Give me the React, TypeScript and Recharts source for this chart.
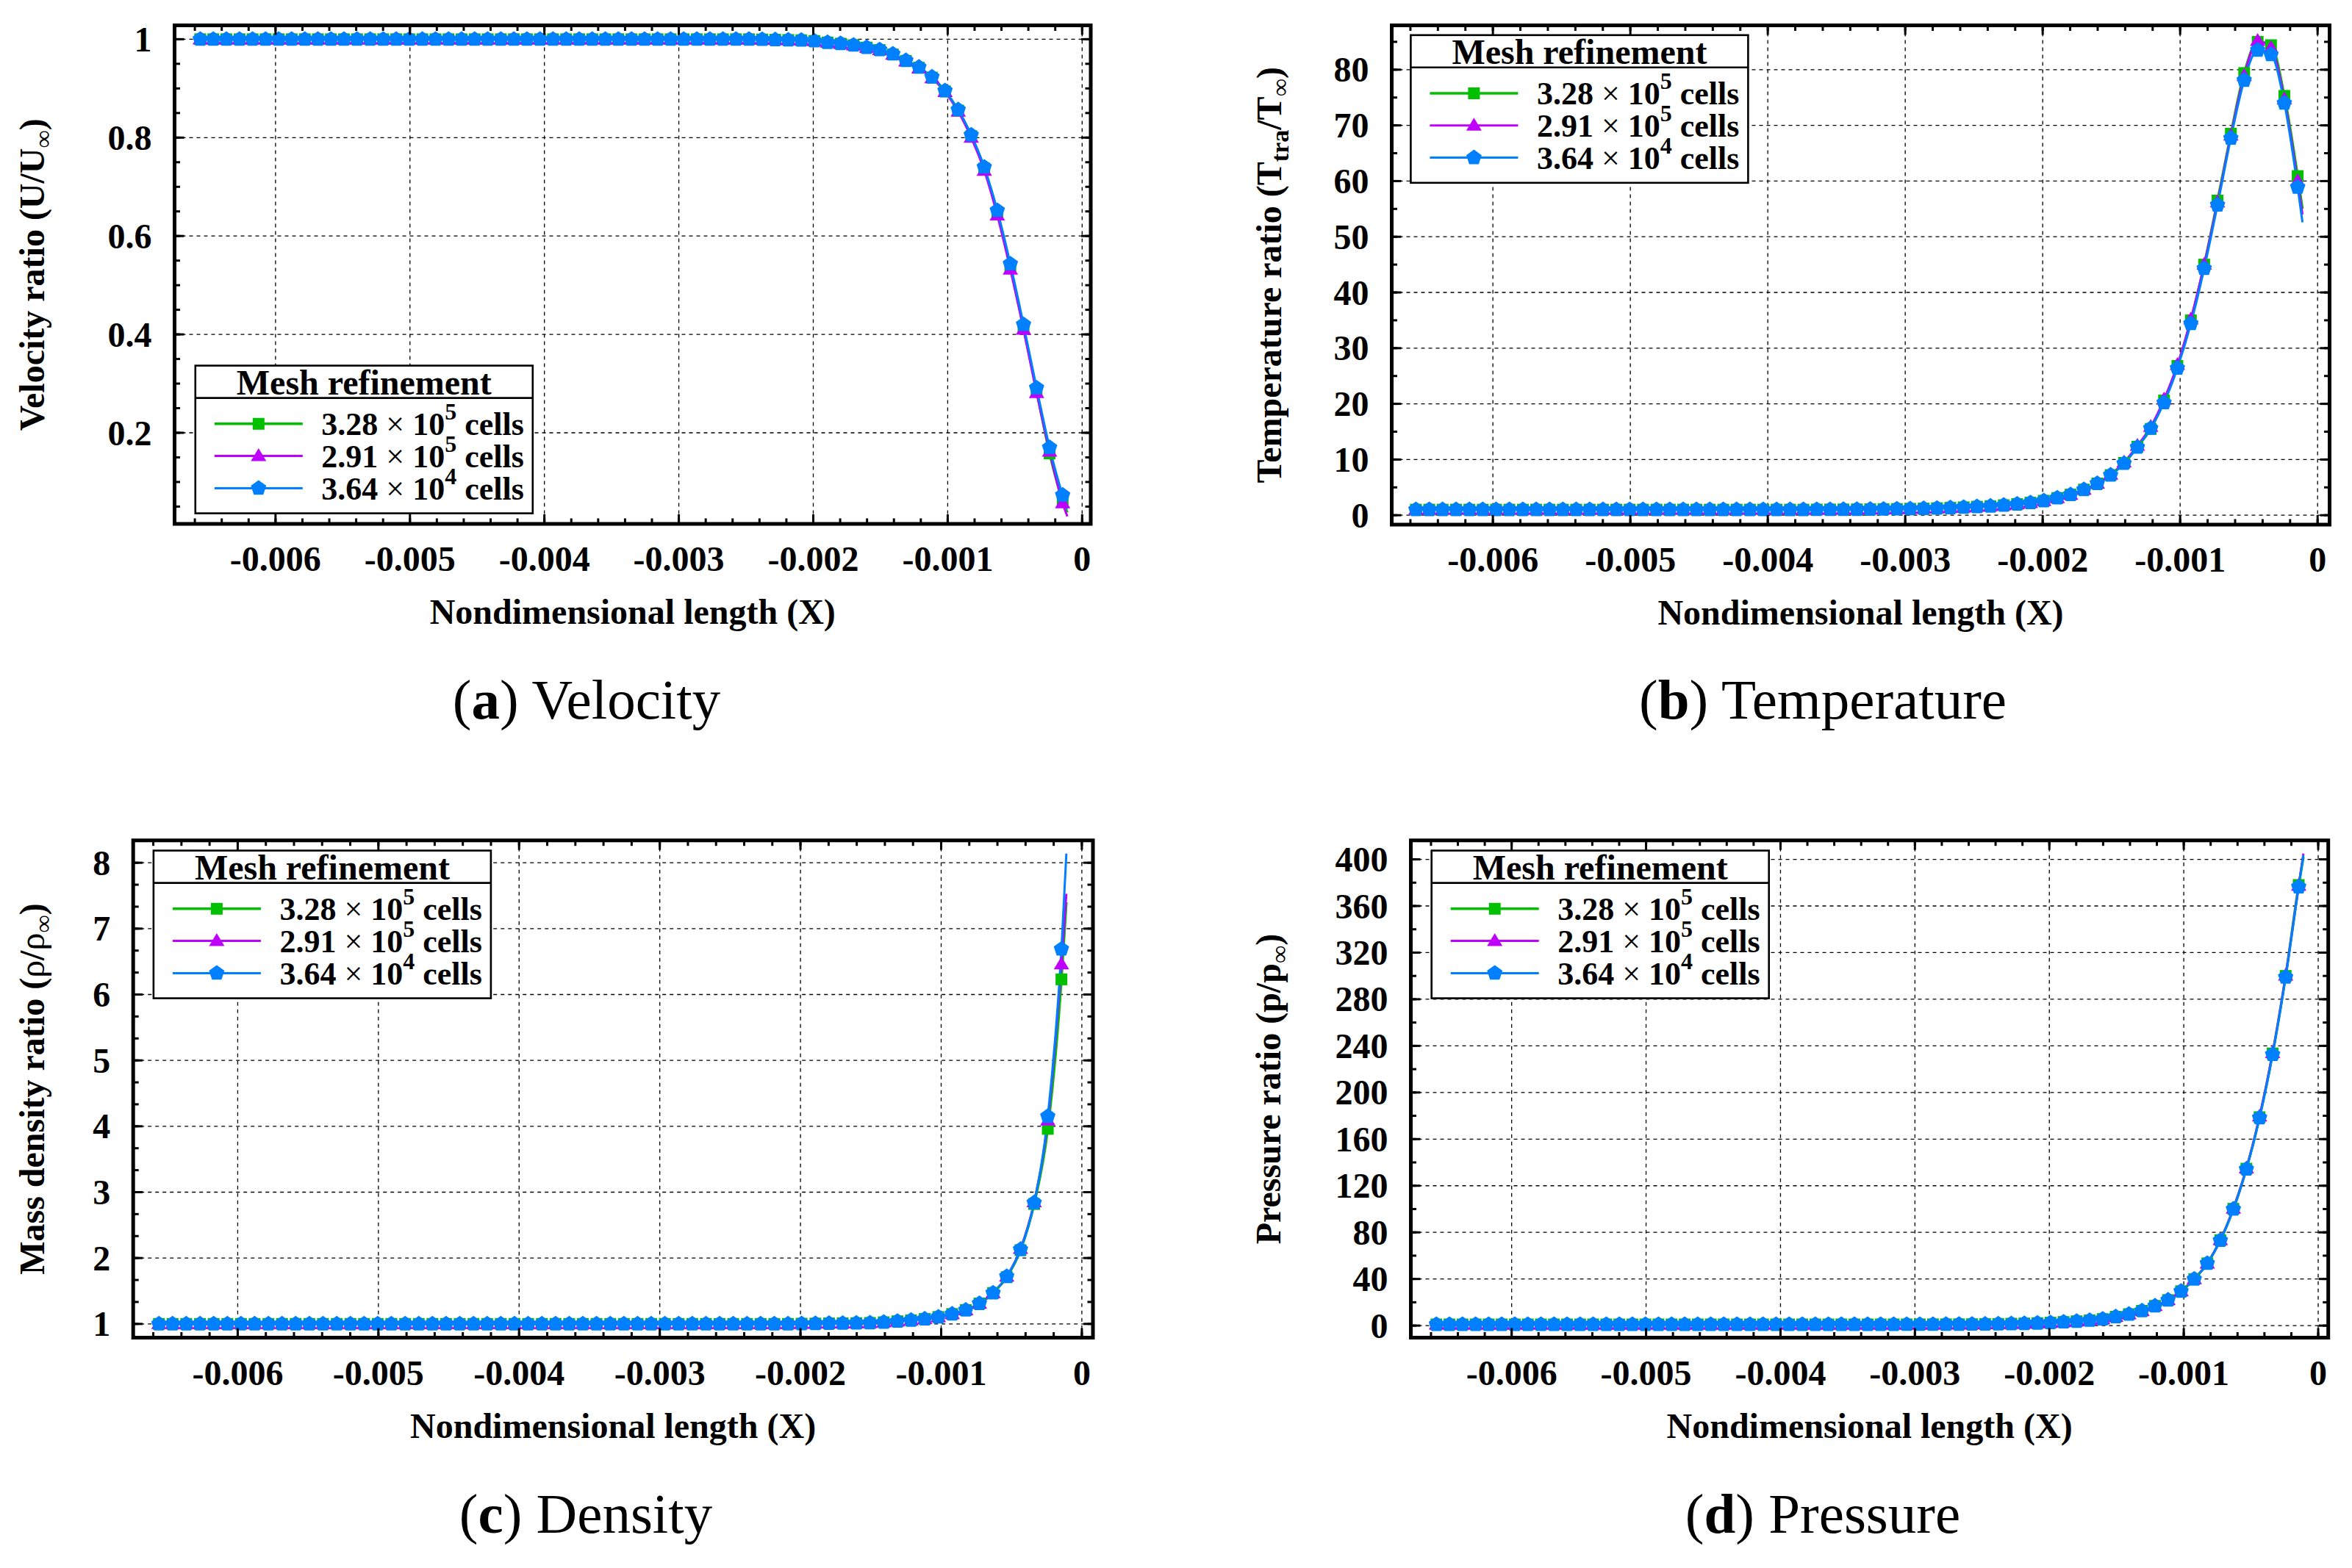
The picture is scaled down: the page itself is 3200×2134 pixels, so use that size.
import React from 'react';
import { LineChart, Line, XAxis, YAxis, CartesianGrid, ReferenceArea, Label } from 'recharts';

const FONT = '"Liberation Serif", "Times New Roman", Times, serif';
const CW = 1600;
const CH = 1067;
const GREEN = '#00C000';
const MAGENTA = '#C000FF';
const BLUE = '#0080FF';

// ---------- data ----------
const xMarks = [
  -0.006560, -0.006463, -0.006366, -0.006268, -0.006171, -0.006074, -0.005977, -0.005880, -0.005782, -0.005685,
  -0.005588, -0.005491, -0.005394, -0.005296, -0.005199, -0.005102, -0.005005, -0.004908, -0.004810, -0.004713,
  -0.004616, -0.004519, -0.004422, -0.004324, -0.004227, -0.004130, -0.004033, -0.003936, -0.003838, -0.003741,
  -0.003644, -0.003547, -0.003450, -0.003352, -0.003255, -0.003158, -0.003061, -0.002964, -0.002866, -0.002769,
  -0.002672, -0.002575, -0.002478, -0.002380, -0.002283, -0.002186, -0.002089, -0.001992, -0.001894, -0.001797,
  -0.001700, -0.001603, -0.001506, -0.001408, -0.001311, -0.001214, -0.001117, -0.001020, -0.000922, -0.000825,
  -0.000728, -0.000631, -0.000534, -0.000436, -0.000339, -0.000242, -0.000145,
];
const xTail = -0.00011;

const velGreen = [
  1, 1, 1, 1, 1, 1, 1, 1, 1, 1,
  1, 1, 1, 1, 1, 1, 1, 1, 1, 1,
  1, 1, 1, 1, 1, 1, 1, 1, 1, 1,
  1, 1, 1, 1, 1, 1, 1, 1, 1, 1,
  1, 1, 1, 0.9995, 0.999, 0.9985, 0.998, 0.9965, 0.9935, 0.991,
  0.988, 0.983, 0.978, 0.969, 0.956, 0.942, 0.922, 0.894, 0.855, 0.803,
  0.737, 0.648, 0.538, 0.414, 0.286, 0.158, 0.062,
];
const velMagenta = [
  1, 1, 1, 1, 1, 1, 1, 1, 1, 1,
  1, 1, 1, 1, 1, 1, 1, 1, 1, 1,
  1, 1, 1, 1, 1, 1, 1, 1, 1, 1,
  1, 1, 1, 1, 1, 1, 1, 1, 1, 1,
  1, 1, 1, 0.9995, 0.999, 0.9985, 0.998, 0.9965, 0.9935, 0.991,
  0.988, 0.983, 0.978, 0.969, 0.955, 0.941, 0.921, 0.893, 0.853, 0.8,
  0.733, 0.642, 0.532, 0.41, 0.281, 0.162, 0.057,
];
const velBlue = [
  1, 1, 1, 1, 1, 1, 1, 1, 1, 1,
  1, 1, 1, 1, 1, 1, 1, 1, 1, 1,
  1, 1, 1, 1, 1, 1, 1, 1, 1, 1,
  1, 1, 1, 1, 1, 1, 1, 1, 1, 1,
  1, 1, 1, 0.9995, 0.999, 0.9985, 0.998, 0.9965, 0.9935, 0.9912,
  0.988, 0.9833, 0.9787, 0.97, 0.9567, 0.9433, 0.9233, 0.8953, 0.8567, 0.8053,
  0.74, 0.652, 0.5433, 0.42, 0.2913, 0.17, 0.0733,
];
const velTail = [0.038, 0.03, 0.045];

const tempGreen = [
  1, 1, 1, 1, 1, 1, 1, 1, 1, 1,
  1, 1, 1, 1, 1, 1, 1, 1, 1, 1,
  1, 1, 1, 1, 1, 1, 1, 1, 1, 1,
  1.02, 1.03, 1.04, 1.05, 1.07, 1.09, 1.12, 1.15, 1.2, 1.26,
  1.33, 1.42, 1.53, 1.63, 1.8, 2.0, 2.25, 2.6, 3.1, 3.7,
  4.6, 5.7, 7.2, 9.4, 12.3, 15.5, 20.6, 26.8, 35.0, 45.0,
  56.5, 68.5, 79.4, 85.0, 84.4, 75.3, 60.9,
];
const tempMagenta = [
  1, 1, 1, 1, 1, 1, 1, 1, 1, 1,
  1, 1, 1, 1, 1, 1, 1, 1, 1, 1,
  1, 1, 1, 1, 1, 1, 1, 1, 1, 1,
  1.02, 1.03, 1.04, 1.05, 1.07, 1.09, 1.12, 1.15, 1.2, 1.26,
  1.33, 1.42, 1.53, 1.63, 1.8, 2.0, 2.25, 2.6, 3.1, 3.7,
  4.6, 5.7, 7.3, 9.5, 12.5, 15.9, 20.8, 27.0, 35.2, 45.0,
  56.2, 68.2, 78.9, 85.2, 83.9, 74.7, 60.0,
];
const tempBlue = [
  1, 1, 1, 1, 1, 1, 1, 1, 1, 1,
  1, 1, 1, 1, 1, 1, 1, 1, 1, 1,
  1, 1, 1, 1, 1, 1, 1, 1, 1, 1,
  1.02, 1.03, 1.04, 1.05, 1.07, 1.09, 1.12, 1.15, 1.2, 1.26,
  1.33, 1.42, 1.53, 1.63, 1.8, 2.0, 2.25, 2.6, 3.1, 3.7,
  4.6, 5.7, 7.2, 9.3, 12.2, 15.6, 20.2, 26.4, 34.4, 44.3,
  55.7, 67.7, 78.1, 83.5, 82.7, 74.0, 58.9,
];
const tempTail = [55, 54, 52.6];

const densGreen = [
  1, 1, 1, 1, 1, 1, 1, 1, 1, 1,
  1, 1, 1, 1, 1, 1, 1, 1, 1, 1,
  1, 1, 1, 1, 1, 1, 1, 1, 1, 1,
  1, 1, 1, 1, 1, 1, 1, 1, 1, 1,
  1, 1, 1, 1, 1, 1, 1, 1.003, 1.005, 1.008,
  1.01, 1.012, 1.015, 1.025, 1.04, 1.055, 1.075, 1.105, 1.15, 1.21,
  1.31, 1.47, 1.71, 2.12, 2.82, 3.96, 6.23,
];
const densMagenta = [
  1, 1, 1, 1, 1, 1, 1, 1, 1, 1,
  1, 1, 1, 1, 1, 1, 1, 1, 1, 1,
  1, 1, 1, 1, 1, 1, 1, 1, 1, 1,
  1, 1, 1, 1, 1, 1, 1, 1, 1, 1,
  1, 1, 1, 1, 1, 1, 1, 1.003, 1.005, 1.008,
  1.01, 1.012, 1.015, 1.025, 1.04, 1.055, 1.075, 1.105, 1.15, 1.21,
  1.31, 1.47, 1.72, 2.14, 2.85, 4.09, 6.46,
];
const densBlue = [
  1, 1, 1, 1, 1, 1, 1, 1, 1, 1,
  1, 1, 1, 1, 1, 1, 1, 1, 1, 1,
  1, 1, 1, 1, 1, 1, 1, 1, 1, 1,
  1, 1, 1, 1, 1, 1, 1, 1, 1, 1,
  1, 1, 1, 1, 1, 1, 1, 1.003, 1.005, 1.008,
  1.01, 1.012, 1.015, 1.025, 1.04, 1.055, 1.075, 1.105, 1.15, 1.21,
  1.31, 1.47, 1.72, 2.13, 2.84, 4.15, 6.69,
];
const densTail = [7.4, 7.53, 8.14];

const presGreen = [
  1, 1, 1, 1, 1, 1, 1, 1, 1, 1,
  1, 1, 1, 1, 1, 1, 1, 1, 1, 1,
  1, 1, 1, 1, 1, 1, 1, 1, 1, 1,
  1, 1, 1, 1, 1, 1.02, 1.03, 1.05, 1.07, 1.1,
  1.15, 1.2, 1.3, 1.45, 1.6, 1.8, 2.1, 2.5, 3.1, 3.7,
  4.5, 5.6, 7.6, 9.8, 12.7, 16.9, 21.9, 29.5, 39.9, 53.4,
  73.3, 100.2, 134.6, 178.8, 233.5, 300, 378,
];
const presMagenta = [
  1, 1, 1, 1, 1, 1, 1, 1, 1, 1,
  1, 1, 1, 1, 1, 1, 1, 1, 1, 1,
  1, 1, 1, 1, 1, 1, 1, 1, 1, 1,
  1, 1, 1, 1, 1, 1.02, 1.03, 1.05, 1.07, 1.1,
  1.15, 1.2, 1.3, 1.45, 1.6, 1.8, 2.1, 2.5, 3.1, 3.7,
  4.5, 5.6, 7.6, 9.8, 12.7, 16.9, 21.9, 29.5, 39.9, 53.4,
  73.5, 100.5, 135, 179.5, 234, 300.5, 377.5,
];
const presBlue = [
  1, 1, 1, 1, 1, 1, 1, 1, 1, 1,
  1, 1, 1, 1, 1, 1, 1, 1, 1, 1,
  1, 1, 1, 1, 1, 1, 1, 1, 1, 1,
  1, 1, 1, 1, 1, 1.02, 1.03, 1.05, 1.07, 1.1,
  1.15, 1.2, 1.3, 1.45, 1.6, 1.8, 2.1, 2.5, 3.1, 3.7,
  4.5, 5.6, 7.6, 9.8, 12.7, 16.9, 21.9, 29.5, 39.9, 53.4,
  73.1, 99.9, 134.2, 178.3, 232.6, 299, 376.4,
];
const presTail = [402, 405, 403.7];

// ---------- ticks ----------
const xMajorTicks = [-0.006, -0.005, -0.004, -0.003, -0.002, -0.001, 0];
const xMinorTicks = [
  -0.0066, -0.0064, -0.0062, -0.006, -0.0058, -0.0056, -0.0054, -0.0052, -0.005, -0.0048,
  -0.0046, -0.0044, -0.0042, -0.004, -0.0038, -0.0036, -0.0034, -0.0032, -0.003, -0.0028,
  -0.0026, -0.0024, -0.0022, -0.002, -0.0018, -0.0016, -0.0014, -0.0012, -0.001, -0.0008,
  -0.0006, -0.0004, -0.0002, 0,
];
const velMajor = [0.2, 0.4, 0.6, 0.8, 1];
const velMinor = [0.05, 0.1, 0.15, 0.2, 0.25, 0.3, 0.35, 0.4, 0.45, 0.5, 0.55, 0.6, 0.65, 0.7, 0.75, 0.8, 0.85, 0.9, 0.95, 1];
const tempMajor = [0, 10, 20, 30, 40, 50, 60, 70, 80];
const tempMinor = [0, 5, 10, 15, 20, 25, 30, 35, 40, 45, 50, 55, 60, 65, 70, 75, 80, 85];
const densMajor = [1, 2, 3, 4, 5, 6, 7, 8];
const densMinor = [1, 1.3333, 1.6667, 2, 2.3333, 2.6667, 3, 3.3333, 3.6667, 4, 4.3333, 4.6667, 5, 5.3333, 5.6667, 6, 6.3333, 6.6667, 7, 7.3333, 7.6667, 8];
const presMajor = [0, 40, 80, 120, 160, 200, 240, 280, 320, 360, 400];
const presMinor = [0, 20, 40, 60, 80, 100, 120, 140, 160, 180, 200, 220, 240, 260, 280, 300, 320, 340, 360, 380, 400];

const legendEntries = [
  { mant: '3.28', exp: '5', color: GREEN, shape: 'square' },
  { mant: '2.91', exp: '5', color: MAGENTA, shape: 'triangle' },
  { mant: '3.64', exp: '4', color: BLUE, shape: 'pentagon' },
];

type Seg = { t: string; sub?: boolean; normal?: boolean };

const velTitle: Seg[] = [{ t: 'Velocity ratio (U/U' }, { t: '∞', sub: true, normal: true }, { t: ')' }];
const tempTitle: Seg[] = [{ t: 'Temperature ratio (T' }, { t: 'tra', sub: true }, { t: '/T' }, { t: '∞', sub: true, normal: true }, { t: ')' }];
const densTitle: Seg[] = [{ t: 'Mass density ratio (' }, { t: 'ρ', normal: true }, { t: '/' }, { t: 'ρ', normal: true }, { t: '∞', sub: true, normal: true }, { t: ')' }];
const presTitle: Seg[] = [{ t: 'Pressure ratio (p/p' }, { t: '∞', sub: true, normal: true }, { t: ')' }];

// ---------- markers ----------
function squareShape(cx: number, cy: number, color: string, key?: any) {
  return <rect key={key} x={cx - 8} y={cy - 8} width={16} height={16} fill={color} />;
}
function triangleShape(cx: number, cy: number, color: string, key?: any) {
  const pts = `${cx},${cy - 10.5} ${cx - 10.5},${cy + 7} ${cx + 10.5},${cy + 7}`;
  return <polygon key={key} points={pts} fill={color} />;
}
function pentagonShape(cx: number, cy: number, color: string, key?: any) {
  const r = 11;
  const pts: string[] = [];
  for (let i = 0; i < 5; i++) {
    const a = (-90 + i * 72) * Math.PI / 180;
    pts.push(`${cx + r * Math.cos(a)},${cy + r * Math.sin(a)}`);
  }
  return <polygon key={key} points={pts.join(' ')} fill={color} />;
}
function shapeFor(shape: string, cx: number, cy: number, color: string, key?: any) {
  if (shape === 'square') return squareShape(cx, cy, color, key);
  if (shape === 'triangle') return triangleShape(cx, cy, color, key);
  return pentagonShape(cx, cy, color, key);
}
function makeDot(shape: string, color: string) {
  return (p: any) => {
    const k = `dot-${shape}-${p.index}`;
    if (!p || p.payload?.tail || p.cx == null || p.cy == null || isNaN(p.cx) || isNaN(p.cy)) return <g key={k} />;
    return shapeFor(shape, p.cx, p.cy, color, k);
  };
}

function renderSegs(segs: Seg[], size: number, subSize: number, subShift: number) {
  let shift = 0;
  return segs.map((s, i) => {
    const target = s.sub ? subShift : 0;
    const dy = target - shift;
    shift = target;
    return (
      <tspan key={i} dy={dy} fontSize={s.sub ? subSize : size} fontWeight={s.normal ? 'normal' : 'bold'}>
        {s.t}
      </tspan>
    );
  });
}

type PanelCfg = {
  id: string;
  ox: number; oy: number;
  L: number; R: number; T: number; B: number;
  xDomain: [number, number];
  yDomain: [number, number];
  yMajor: number[];
  yMinor: number[];
  title: Seg[];
  titleX: number;
  green: number[]; magenta: number[]; blue: number[];
  tail: number[];
};

const panels: PanelCfg[] = [
  { id: 'a', ox: 0, oy: 0, L: 237.5, R: 1484, T: 34.5, B: 713, xDomain: [-0.006751, 0.000064], yDomain: [0.0148, 1.0282],
    yMajor: velMajor, yMinor: velMinor, title: velTitle, titleX: 60, green: velGreen, magenta: velMagenta, blue: velBlue, tail: velTail },
  { id: 'b', ox: 1600, oy: 0, L: 293.5, R: 1569.5, T: 34.5, B: 714, xDomain: [-0.006736, 0.0000872], yDomain: [-1.69, 87.96],
    yMajor: tempMajor, yMinor: tempMinor, title: tempTitle, titleX: 143, green: tempGreen, magenta: tempMagenta, blue: tempBlue, tail: tempTail },
  { id: 'c', ox: 0, oy: 1067, L: 181.2, R: 1487, T: 76.7, B: 753.5, xDomain: [-0.006743, 0.0000789], yDomain: [0.7914, 8.34],
    yMajor: densMajor, yMinor: densMinor, title: densTitle, titleX: 59.7, green: densGreen, magenta: densMagenta, blue: densBlue, tail: densTail },
  { id: 'd', ox: 1600, oy: 1067, L: 319.5, R: 1567.7, T: 76.7, B: 753.5, xDomain: [-0.00675, 0.0000749], yDomain: [-10.34, 416.3],
    yMajor: presMajor, yMinor: presMinor, title: presTitle, titleX: 142, green: presGreen, magenta: presMagenta, blue: presBlue, tail: presTail },
];

const MAJ = 13;
const MIN = 7.5;
const TICKW = 3;

function fmtX(v: number) {
  return Math.abs(v) < 1e-12 ? '0' : v.toFixed(3);
}

function Panel({ p }: { p: PanelCfg }) {
  const rows: any[] = xMarks.map((x, i) => ({ x, g: p.green[i], m: p.magenta[i], b: p.blue[i] }));
  rows.push({ x: xTail, g: p.tail[0], m: p.tail[1], b: p.tail[2], tail: true });

  const xMajorTick = (props: any) => {
    const x = props.payload?.coordinate ?? props.x;
    return (
      <g>
        <line x1={x} x2={x} y1={p.B} y2={p.B - MAJ} stroke="#000" strokeWidth={TICKW} />
        <line x1={x} x2={x} y1={p.T} y2={p.T + MAJ} stroke="#000" strokeWidth={TICKW} />
        <text x={x} y={p.B + 64} textAnchor="middle" fontFamily={FONT} fontWeight="bold" fontSize={48} fill="#000">
          {fmtX(props.payload.value)}
        </text>
      </g>
    );
  };
  const xMinorTick = (props: any) => {
    const x = props.payload?.coordinate ?? props.x;
    return (
      <g>
        <line x1={x} x2={x} y1={p.B} y2={p.B - MIN} stroke="#000" strokeWidth={TICKW} />
        <line x1={x} x2={x} y1={p.T} y2={p.T + MIN} stroke="#000" strokeWidth={TICKW} />
      </g>
    );
  };
  const yMajorTick = (props: any) => {
    const y = props.payload?.coordinate ?? props.y;
    return (
      <g>
        <line x1={p.L} x2={p.L + MAJ} y1={y} y2={y} stroke="#000" strokeWidth={TICKW} />
        <line x1={p.R} x2={p.R - MAJ} y1={y} y2={y} stroke="#000" strokeWidth={TICKW} />
        <text x={p.L - 31} y={y + 16.5} textAnchor="end" fontFamily={FONT} fontWeight="bold" fontSize={48} fill="#000">
          {String(props.payload.value)}
        </text>
      </g>
    );
  };
  const yMinorTick = (props: any) => {
    const y = props.payload?.coordinate ?? props.y;
    return (
      <g>
        <line x1={p.L} x2={p.L + MIN} y1={y} y2={y} stroke="#000" strokeWidth={TICKW} />
        <line x1={p.R} x2={p.R - MIN} y1={y} y2={y} stroke="#000" strokeWidth={TICKW} />
      </g>
    );
  };

  const xTitle = () => (
    <text x={(p.L + p.R) / 2} y={p.B + 136} textAnchor="middle" fontFamily={FONT} fontWeight="bold" fontSize={48} fill="#000">
      Nondimensional length (X)
    </text>
  );
  const cy = (p.T + p.B) / 2;
  const yTitle = () => (
    <text
      x={p.titleX}
      y={cy}
      transform={`rotate(-90 ${p.titleX} ${cy})`}
      textAnchor="middle"
      fontFamily={FONT}
      fontSize={48}
      fill="#000"
    >
      {renderSegs(p.title, 48, 34, 10)}
    </text>
  );

  return (
    <div style={{ position: 'absolute', left: p.ox, top: p.oy, width: CW, height: CH }}>
      <LineChart
        width={CW}
        height={CH}
        data={rows}
        margin={{ top: p.T, left: p.L - 2, right: CW - p.R, bottom: CH - p.B - 2 }}
      >
        <CartesianGrid stroke="#000" strokeDasharray="5 5" strokeWidth={1.3} />
        <XAxis
          dataKey="x"
          type="number"
          domain={p.xDomain}
          allowDataOverflow
          ticks={xMajorTicks}
          interval={0}
          tickLine={false}
          axisLine={false}
          height={1}
          tick={xMajorTick}
        >
          <Label content={xTitle} />
        </XAxis>
        <XAxis
          xAxisId="mx"
          dataKey="x"
          type="number"
          domain={p.xDomain}
          allowDataOverflow
          ticks={xMinorTicks}
          interval={0}
          tickLine={false}
          axisLine={false}
          height={1}
          tick={xMinorTick}
        />
        <YAxis
          type="number"
          domain={p.yDomain}
          allowDataOverflow
          ticks={p.yMajor}
          interval={0}
          tickLine={false}
          axisLine={false}
          width={1}
          tick={yMajorTick}
        >
          <Label content={yTitle} />
        </YAxis>
        <YAxis
          yAxisId="my"
          type="number"
          domain={p.yDomain}
          allowDataOverflow
          ticks={p.yMinor}
          interval={0}
          tickLine={false}
          axisLine={false}
          width={1}
          tick={yMinorTick}
        />
        <Line type="monotone" dataKey="g" stroke={GREEN} strokeWidth={3.5} dot={makeDot('square', GREEN)} activeDot={false} isAnimationActive={false} />
        <Line type="monotone" dataKey="m" stroke={MAGENTA} strokeWidth={3} dot={makeDot('triangle', MAGENTA)} activeDot={false} isAnimationActive={false} />
        <Line type="monotone" dataKey="b" stroke={BLUE} strokeWidth={3} dot={makeDot('pentagon', BLUE)} activeDot={false} isAnimationActive={false} />
        <ReferenceArea
          x1={p.xDomain[0]}
          x2={p.xDomain[1]}
          y1={p.yDomain[0]}
          y2={p.yDomain[1]}
          fill="none"
          fillOpacity={0}
          stroke="#000"
          strokeWidth={5}
          ifOverflow="visible"
        />
      </LineChart>
    </div>
  );
}

const legendPos = [
  { x: 265.8, y: 497.6 },
  { x: 1919.4, y: 47.8 },
  { x: 208.9, y: 1157.6 },
  { x: 1947.7, y: 1157.6 },
];
const captions = [
  { x: 798, y: 977.5, letter: 'a', text: 'Velocity' },
  { x: 2480, y: 977.5, letter: 'b', text: 'Temperature' },
  { x: 797, y: 2086, letter: 'c', text: 'Density' },
  { x: 2480, y: 2086, letter: 'd', text: 'Pressure' },
];

function LegendBox({ x, y }: { x: number; y: number }) {
  const W = 459;
  const H = 201;
  const rowsY = [79.2, 122.9, 166.8];
  return (
    <g transform={`translate(${x},${y})`}>
      <rect x={0} y={0} width={W} height={H} fill="#fff" stroke="#000" strokeWidth={2.6} />
      <line x1={0} x2={W} y1={44} y2={44} stroke="#000" strokeWidth={2.6} />
      <text x={W / 2} y={39} textAnchor="middle" fontFamily={FONT} fontWeight="bold" fontSize={48} fill="#000">
        Mesh refinement
      </text>
      {legendEntries.map((e, i) => (
        <g key={i}>
          <line x1={26} x2={146} y1={rowsY[i]} y2={rowsY[i]} stroke={e.color} strokeWidth={i === 0 ? 3.5 : 3} />
          {shapeFor(e.shape, 86, rowsY[i], e.color)}
          <text x={171.5} y={rowsY[i] + 15.5} fontFamily={FONT} fontWeight="bold" fontSize={44} fill="#000">
            {e.mant} <tspan fontWeight="normal">×</tspan> 10
            <tspan dy={-21} fontSize={32}>{e.exp}</tspan>
            <tspan dy={21}> cells</tspan>
          </text>
        </g>
      ))}
    </g>
  );
}

export default function App() {
  return (
    <div style={{ position: 'absolute', left: 0, top: 0, width: 3200, height: 2134, background: '#fff', overflow: 'hidden' }}>
      {panels.map((p) => (
        <Panel key={p.id} p={p} />
      ))}
      <svg
        width={3200}
        height={2134}
        style={{ position: 'absolute', left: 0, top: 0, pointerEvents: 'none' }}
      >
        {legendPos.map((lp, i) => (
          <LegendBox key={i} x={lp.x} y={lp.y} />
        ))}
        {captions.map((c, i) => (
          <text key={i} x={c.x} y={c.y} textAnchor="middle" fontFamily={FONT} fontSize={77} fill="#000">
            (<tspan fontWeight="bold">{c.letter}</tspan>) {c.text}
          </text>
        ))}
      </svg>
    </div>
  );
}
